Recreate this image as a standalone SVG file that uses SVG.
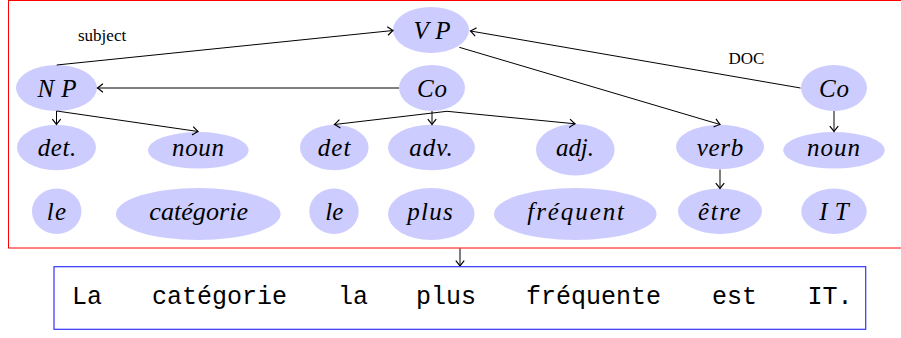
<svg xmlns="http://www.w3.org/2000/svg" width="901" height="338" viewBox="0 0 901 338">
<defs>
<style>
.n ellipse{fill:#ccccff;stroke:none}
.n text{font-family:"Liberation Serif","DejaVu Serif",serif;font-style:italic;font-size:25px;fill:#000;text-anchor:middle}
.e line{stroke:#000;stroke-width:1;fill:none;marker-end:url(#arr)}
.lbl{font-family:"Liberation Serif",serif;font-size:17px;fill:#000}
.tt{font-family:"Liberation Mono","DejaVu Sans Mono",monospace;font-size:25px;fill:#000}
</style>
<marker id="arr" markerUnits="userSpaceOnUse" markerWidth="12" markerHeight="12" viewBox="-6 -5 7 10" refX="0" refY="0" orient="auto">
<path d="M-4.5,-3.5 Q-1.2,-0.8 0,0 Q-1.2,0.8 -4.5,3.5" fill="none" stroke="#000" stroke-width="1"/>
</marker>
</defs>
<rect id="frame" x="8.5" y="0.5" width="900" height="247.5" fill="none" stroke="#ff0000" stroke-width="1"/>
<g id="VP" class="n"><ellipse cx="431" cy="30" rx="38" ry="23"/><text x="432" y="39" textLength="37" lengthAdjust="spacing">VP</text></g>
<g id="NP" class="n"><ellipse cx="56.5" cy="88" rx="40.5" ry="23"/><text x="57" y="97" textLength="39" lengthAdjust="spacing">NP</text></g>
<g id="CoM" class="n"><ellipse cx="432" cy="88" rx="33" ry="23"/><text x="432" y="97" textLength="30" lengthAdjust="spacing">Co</text></g>
<g id="CoR" class="n"><ellipse cx="834" cy="88" rx="33" ry="23"/><text x="834" y="97" textLength="30" lengthAdjust="spacing">Co</text></g>
<g id="det1" class="n"><ellipse cx="56.5" cy="147.5" rx="39.5" ry="22.7"/><text x="57" y="155.5" textLength="38.7" lengthAdjust="spacing">det.</text></g>
<g id="noun1" class="n"><ellipse cx="198.3" cy="150.3" rx="50.3" ry="18.3"/><text x="198" y="155.5" textLength="52" lengthAdjust="spacing">noun</text></g>
<g id="det2" class="n"><ellipse cx="334.3" cy="147.5" rx="34.3" ry="22.7"/><text x="334" y="155.5" textLength="32.7" lengthAdjust="spacing">det</text></g>
<g id="adv" class="n"><ellipse cx="431.5" cy="147.5" rx="43.5" ry="22.7"/><text x="431" y="155.5" textLength="43.4" lengthAdjust="spacing">adv.</text></g>
<g id="adj" class="n"><ellipse cx="575.3" cy="149.7" rx="39.3" ry="25.7"/><text x="575" y="155.5" textLength="38" lengthAdjust="spacing">adj.</text></g>
<g id="verb" class="n"><ellipse cx="720" cy="147" rx="44" ry="22.3"/><text x="720" y="155.5" textLength="46.6" lengthAdjust="spacing">verb</text></g>
<g id="noun2" class="n"><ellipse cx="834" cy="150.3" rx="50.7" ry="18.3"/><text x="833.5" y="155.5" textLength="53" lengthAdjust="spacing">noun</text></g>
<g id="le1" class="n"><ellipse cx="56.7" cy="211.3" rx="24.7" ry="22.7"/><text x="56.5" y="219.5" textLength="19.3" lengthAdjust="spacing">le</text></g>
<g id="categorie" class="n"><ellipse cx="198.3" cy="214" rx="82.3" ry="26"/><text x="198.7" y="219.5" textLength="98.7" lengthAdjust="spacingAndGlyphs">catégorie</text></g>
<g id="le2" class="n"><ellipse cx="334" cy="211.3" rx="24.7" ry="22.7"/><text x="334.3" y="219.5" textLength="18" lengthAdjust="spacingAndGlyphs">le</text></g>
<g id="plus" class="n"><ellipse cx="431.3" cy="214" rx="43.3" ry="26"/><text x="430" y="219.5" textLength="45.4" lengthAdjust="spacing">plus</text></g>
<g id="frequent" class="n"><ellipse cx="575.3" cy="214" rx="81.3" ry="26"/><text x="575.7" y="219.5" textLength="96.7" lengthAdjust="spacing">fréquent</text></g>
<g id="etre" class="n"><ellipse cx="720" cy="211.3" rx="42" ry="22.7"/><text x="719.3" y="219.5" textLength="42.7" lengthAdjust="spacing">être</text></g>
<g id="IT" class="n"><ellipse cx="834" cy="211.3" rx="32.7" ry="22.7"/><text x="834" y="219.5" textLength="29.4" lengthAdjust="spacing">IT</text></g>
<g id="connectors" class="e">
<line x1="56.7" y1="65" x2="393" y2="30.5"/>
<line x1="800.5" y1="88" x2="470.5" y2="31"/>
<line x1="459.3" y1="47.3" x2="720" y2="124.5"/>
<line x1="399" y1="88" x2="97.5" y2="88"/>
<line x1="56.5" y1="111" x2="56.5" y2="124.5"/>
<line x1="56.7" y1="111" x2="198" y2="131.5"/>
<line x1="447" y1="111.3" x2="334.5" y2="124.5"/>
<line x1="432" y1="111" x2="432" y2="124.5"/>
<line x1="447" y1="111.3" x2="575" y2="123.8"/>
<line x1="834" y1="111" x2="834" y2="131.5"/>
<line x1="720" y1="169.5" x2="720" y2="188.5"/>
<line x1="460" y1="248.5" x2="460" y2="266"/>
</g>
<g id="labels">
<text class="lbl" x="78" y="41">subject</text>
<text class="lbl" x="728.5" y="64">DOC</text>
</g>
<g id="sentence">
<rect x="54" y="266.7" width="811.7" height="62.6" fill="none" stroke="#3333ff" stroke-width="1.2"/>
<text class="tt" x="72" y="304">La</text>
<text class="tt" x="152" y="304">catégorie</text>
<text class="tt" x="338" y="304">la</text>
<text class="tt" x="416" y="304">plus</text>
<text class="tt" x="526" y="304">fréquente</text>
<text class="tt" x="712" y="304">est</text>
<text class="tt" x="807.5" y="304">IT.</text>
</g>
</svg>
